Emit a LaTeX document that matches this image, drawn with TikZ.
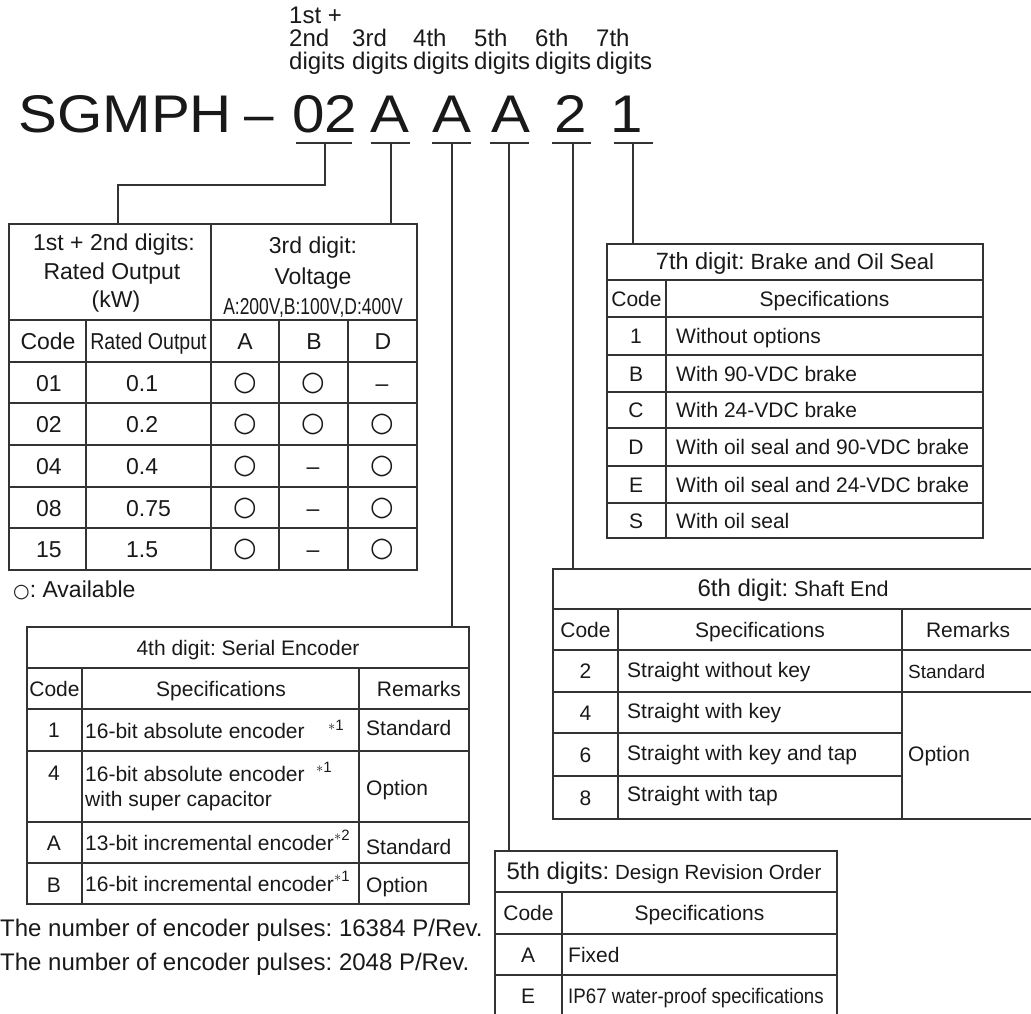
\documentclass[tikz,border=0pt]{standalone}
\usepackage{fontspec}
\setmainfont{Liberation Sans}
\newfontfamily\symfont{DejaVu Sans}
\usepackage{graphicx}
\newcommand{\fs}[1]{\fontsize{#1}{#1}\selectfont}
\newcommand{\avl}{{\symfont\fs{27}○}}
\begin{document}
\frenchspacing
\begin{tikzpicture}[x=1pt,y=-1pt,
  ln/.style={draw=black!80,line width=1.1pt},
  conn/.style={draw=black!80,line width=1.1pt},
  tx/.style={inner sep=0pt,text=black!90,font=\fs{21},text height=15pt,text depth=0pt},
  txl/.style={inner sep=0pt,text=black!90,font=\fs{23},text height=16.5pt,text depth=0pt},
  sy/.style={inner sep=0pt,text=black!90},
  big/.style={inner sep=0pt,text=black!90,font=\fs{53}},
  hdr/.style={inner sep=0pt,text=black!90,font=\fs{24}},
  sup/.style={inner sep=0pt,text=black!90,font=\fs{15},text height=10pt,text depth=0pt},
  c/.style={anchor=center},
  w/.style={anchor=west}]
\useasboundingbox (0,0) rectangle (1031,1014);
\clip (0,0) rectangle (1031,1014);

% ---------- header labels ----------
\node[hdr,anchor=base west] (h1a) at (289,24) {1st +};
\node[hdr,anchor=base west] (h1b) at (289,47) {2nd};
\node[hdr,anchor=base west] (h1c) at (289,70) {digits};
\node[hdr,anchor=base west] (h3b) at (352,47) {3rd};
\node[hdr,anchor=base west] (h3c) at (352,70) {digits};
\node[hdr,anchor=base west] (h4b) at (413,47) {4th};
\node[hdr,anchor=base west] (h4c) at (413,70) {digits};
\node[hdr,anchor=base west] (h5b) at (474,47) {5th};
\node[hdr,anchor=base west] (h5c) at (474,70) {digits};
\node[hdr,anchor=base west] (h6b) at (535,47) {6th};
\node[hdr,anchor=base west] (h6c) at (535,70) {digits};
\node[hdr,anchor=base west] (h7b) at (596,47) {7th};
\node[hdr,anchor=base west] (h7c) at (596,70) {digits};

% ---------- model code ----------
\node[big,anchor=base west] (sgmph) at (18,133) {\scalebox{1.1}[1]{SGMPH}};
\node[big,anchor=base] (dsh) at (259,133) {–};
\node[big,anchor=base] (d12) at (325,133) {\scalebox{1.1}[1]{02}};
\node[big,anchor=base] (d3) at (390,133) {\scalebox{1.1}[1]{A}};
\node[big,anchor=base] (d4) at (452,133) {\scalebox{1.1}[1]{A}};
\node[big,anchor=base] (d5) at (511,133) {\scalebox{1.1}[1]{A}};
\node[big,anchor=base] (d6) at (571,133) {\scalebox{1.1}[1]{2}};
\node[big,anchor=base] (d7) at (627,133) {\scalebox{1.1}[1]{1}};

% underlines
\draw[ln] (296,143) -- (352,143);
\draw[ln] (371,143) -- (410,143);
\draw[ln] (432,143) -- (471,143);
\draw[ln] (490,143) -- (529,143);
\draw[ln] (552,143) -- (591,143);
\draw[ln] (614,143) -- (653,143);

\coordinate (c12) at (325,143);
\coordinate (c3) at (391,143);
\coordinate (c4) at (452,143);
\coordinate (c5) at (509,143);
\coordinate (c6) at (573,143);
\coordinate (c7) at (633,143);
\coordinate (t1a) at (118,224);
\coordinate (t1b) at (391,224);
\coordinate (t4a) at (452,627);
\coordinate (t5a) at (509,851);
\coordinate (t6a) at (573,569);
\coordinate (t7a) at (633,244);

\draw[conn] (c12) -- ++(0,42) -| (t1a);
\draw[conn] (c3) -- (t1b);
\draw[conn] (c4) -- (t4a);
\draw[conn] (c5) -- (t5a);
\draw[conn] (c6) -- (t6a);
\draw[conn] (c7) -- (t7a);

% ---------- table 1+2 / 3 ----------
\draw[ln] (9,224) rectangle (417,570);
\draw[ln] (211,224) -- (211,570);
\draw[ln] (9,320) -- (417,320);
\foreach \y in {362,403,445,487,528} \draw[ln] (9,\y) -- (417,\y);
\foreach \x in {86,279,348} \draw[ln] (\x,320) -- (\x,570);

\node[txl,c] (l1) at (114,242) {1st + 2nd digits:};
\node[txl,c] (l2) at (112,271) {Rated Output};
\node[txl,c] (l3) at (116,299) {(kW)};
\node[txl,c] (l4) at (313,245) {3rd digit:};
\node[txl,c] (l5) at (313,276) {Voltage};
\node[txl,c] (l6) at (313,306) {\scalebox{0.76}[1]{A:200V,B:100V,D:400V}};
\node[txl,c] (lc) at (48,341) {Code};
\node[txl,c] (lr) at (148.5,341) {\scalebox{0.85}[1]{Rated Output}};
\node[txl,c] (la) at (245,341) {A};
\node[txl,c] (lb) at (314,341) {B};
\node[txl,c] (ld) at (383,341) {D};

\node[txl,c] (r1a) at (49,383) {01};
\node[txl,w] (r1b) at (126,383) {0.1};
\node[sy,c] (r1c) at (245,383) {\avl};
\node[sy,c] (r1d) at (313,383) {\avl};
\node[txl,c] (r1e) at (382,383) {–};

\node[txl,c] (r2a) at (49,424) {02};
\node[txl,w] (r2b) at (126,424) {0.2};
\node[sy,c] (r2c) at (245,424) {\avl};
\node[sy,c] (r2d) at (313,424) {\avl};
\node[sy,c] (r2e) at (382,424) {\avl};

\node[txl,c] (r3a) at (49,466) {04};
\node[txl,w] (r3b) at (126,466) {0.4};
\node[sy,c] (r3c) at (245,466) {\avl};
\node[txl,c] (r3d) at (313,466) {–};
\node[sy,c] (r3e) at (382,466) {\avl};

\node[txl,c] (r4a) at (49,508) {08};
\node[txl,w] (r4b) at (126,508) {0.75};
\node[sy,c] (r4c) at (245,508) {\avl};
\node[txl,c] (r4d) at (313,508) {–};
\node[sy,c] (r4e) at (382,508) {\avl};

\node[txl,c] (r5a) at (49,549) {15};
\node[txl,w] (r5b) at (126,549) {1.5};
\node[sy,c] (r5c) at (245,549) {\avl};
\node[txl,c] (r5d) at (313,549) {–};
\node[sy,c] (r5e) at (382,549) {\avl};

\node[txl,w] (avail) at (13,589) {{\symfont\fs{19}○}: Available};

% ---------- table 4th ----------
\draw[ln] (27,627) rectangle (469,904);
\draw[ln] (27,668) -- (469,668);
\foreach \y in {709,751,822,863} \draw[ln] (27,\y) -- (469,\y);
\foreach \x in {82,359} \draw[ln] (\x,668) -- (\x,904);
\node[tx,c] (f0) at (248,647.5) {4th digit: Serial Encoder};
\node[tx,c] (f1) at (54.5,688.5) {Code};
\node[tx,c] (f2) at (221,688.5) {Specifications};
\node[tx,c] (f3) at (419,688.5) {Remarks};
\node[tx,c] (f11) at (54,730) {1};
\node[tx,w] (f12) at (85,731) {16-bit absolute encoder};
\node[sup,w] (f13) at (328,725) {$\ast$1};
\node[tx,w] (f14) at (366,728) {Standard};
\node[tx,c] (f21) at (54,773) {4};
\node[tx,w] (f22) at (85,774) {16-bit absolute encoder};
\node[sup,w] (f23) at (316,767) {$\ast$1};
\node[tx,w] (f24) at (85,799) {with super capacitor};
\node[tx,w] (f25) at (366,788) {Option};
\node[tx,c] (f31) at (54,843) {A};
\node[tx,w] (f32) at (85,843) {13-bit incremental encoder};
\node[sup,w] (f33) at (334,835) {$\ast$2};
\node[tx,w] (f34) at (366,847) {Standard};
\node[tx,c] (f41) at (54,885) {B};
\node[tx,w] (f42) at (85,884) {16-bit incremental encoder};
\node[sup,w] (f43) at (334,876) {$\ast$1};
\node[tx,w] (f44) at (366,885) {Option};

\node[txl,w,font=\fs{24}] (fn1) at (0,928) {The number of encoder pulses: 16384 P/Rev.};
\node[txl,w,font=\fs{24}] (fn2) at (0,962) {The number of encoder pulses: 2048 P/Rev.};

% ---------- table 7th ----------
\draw[ln] (607,244) rectangle (983,538);
\draw[ln] (607,280) -- (983,280);
\foreach \y in {317,355,392,428,466,503} \draw[ln] (607,\y) -- (983,\y);
\draw[ln] (666,280) -- (666,538);
\node[tx,c] (s0) at (795,262) {{\fs{23.5}7th digit:} {\fs{22}Brake and Oil Seal}};
\node[tx,c] (s1) at (636.5,298.5) {Code};
\node[tx,c] (s2) at (824.5,298.5) {Specifications};
\node[tx,c] (s11) at (636,336) {1};
\node[tx,w] (s12) at (676,336) {Without options};
\node[tx,c] (s21) at (636,373.5) {B};
\node[tx,w] (s22) at (676,373.5) {With 90-VDC brake};
\node[tx,c] (s31) at (636,410) {C};
\node[tx,w] (s32) at (676,410) {With 24-VDC brake};
\node[tx,c] (s41) at (636,447) {D};
\node[tx,w] (s42) at (676,447) {With oil seal and 90-VDC brake};
\node[tx,c] (s51) at (636,484.5) {E};
\node[tx,w] (s52) at (676,484.5) {With oil seal and 24-VDC brake};
\node[tx,c] (s61) at (636,520.5) {S};
\node[tx,w] (s62) at (676,520.5) {With oil seal};

% ---------- table 6th ----------
\draw[ln] (1040,569) -- (553,569) -- (553,819) -- (1040,819);
\draw[ln] (553,609) -- (1040,609);
\draw[ln] (553,650) -- (1040,650);
\draw[ln] (553,692) -- (1040,692);
\draw[ln] (553,733) -- (902,733);
\draw[ln] (553,776) -- (902,776);
\draw[ln] (618,609) -- (618,819);
\draw[ln] (902,609) -- (902,819);
\node[tx,c] (x0) at (793,589) {{\fs{24}6th digit:} {\fs{21.5}Shaft End}};
\node[tx,c] (x1) at (585.5,629.5) {Code};
\node[tx,c] (x2) at (760,629.5) {Specifications};
\node[tx,c] (x3) at (968,629.5) {Remarks};
\node[tx,c] (x11) at (585.5,671) {2};
\node[tx,w] (x12) at (627,670) {Straight without key};
\node[tx,w,font=\fs{19}] (x13) at (908,671) {Standard};
\node[tx,c] (x21) at (585.5,713) {4};
\node[tx,w] (x22) at (627,711) {Straight with key};
\node[tx,c] (x31) at (585.5,755) {6};
\node[tx,w] (x32) at (627,753) {Straight with key and tap};
\node[tx,c] (x41) at (585.5,798) {8};
\node[tx,w] (x42) at (627,794) {Straight with tap};
\node[tx,w] (x43) at (908,754) {Option};

% ---------- table 5th ----------
\draw[ln] (495,1020) -- (495,851) -- (837,851) -- (837,1020);
\draw[ln] (495,892) -- (837,892);
\draw[ln] (495,934) -- (837,934);
\draw[ln] (495,975) -- (837,975);
\draw[ln] (562,892) -- (562,1020);
\node[tx,c] (v0) at (664,871.5) {{\fs{24}5th digits:} {\fs{20.5}Design Revision Order}};
\node[tx,c] (v1) at (528.5,913) {Code};
\node[tx,c] (v2) at (699.5,913) {Specifications};
\node[tx,c] (v11) at (528,954.5) {A};
\node[tx,w] (v12) at (568,954.5) {Fixed};
\node[tx,c] (v21) at (528,996) {E};
\node[tx,w] (v22) at (568,996) {\scalebox{0.89}[1]{IP67 water-proof specifications}};

\end{tikzpicture}
\end{document}
